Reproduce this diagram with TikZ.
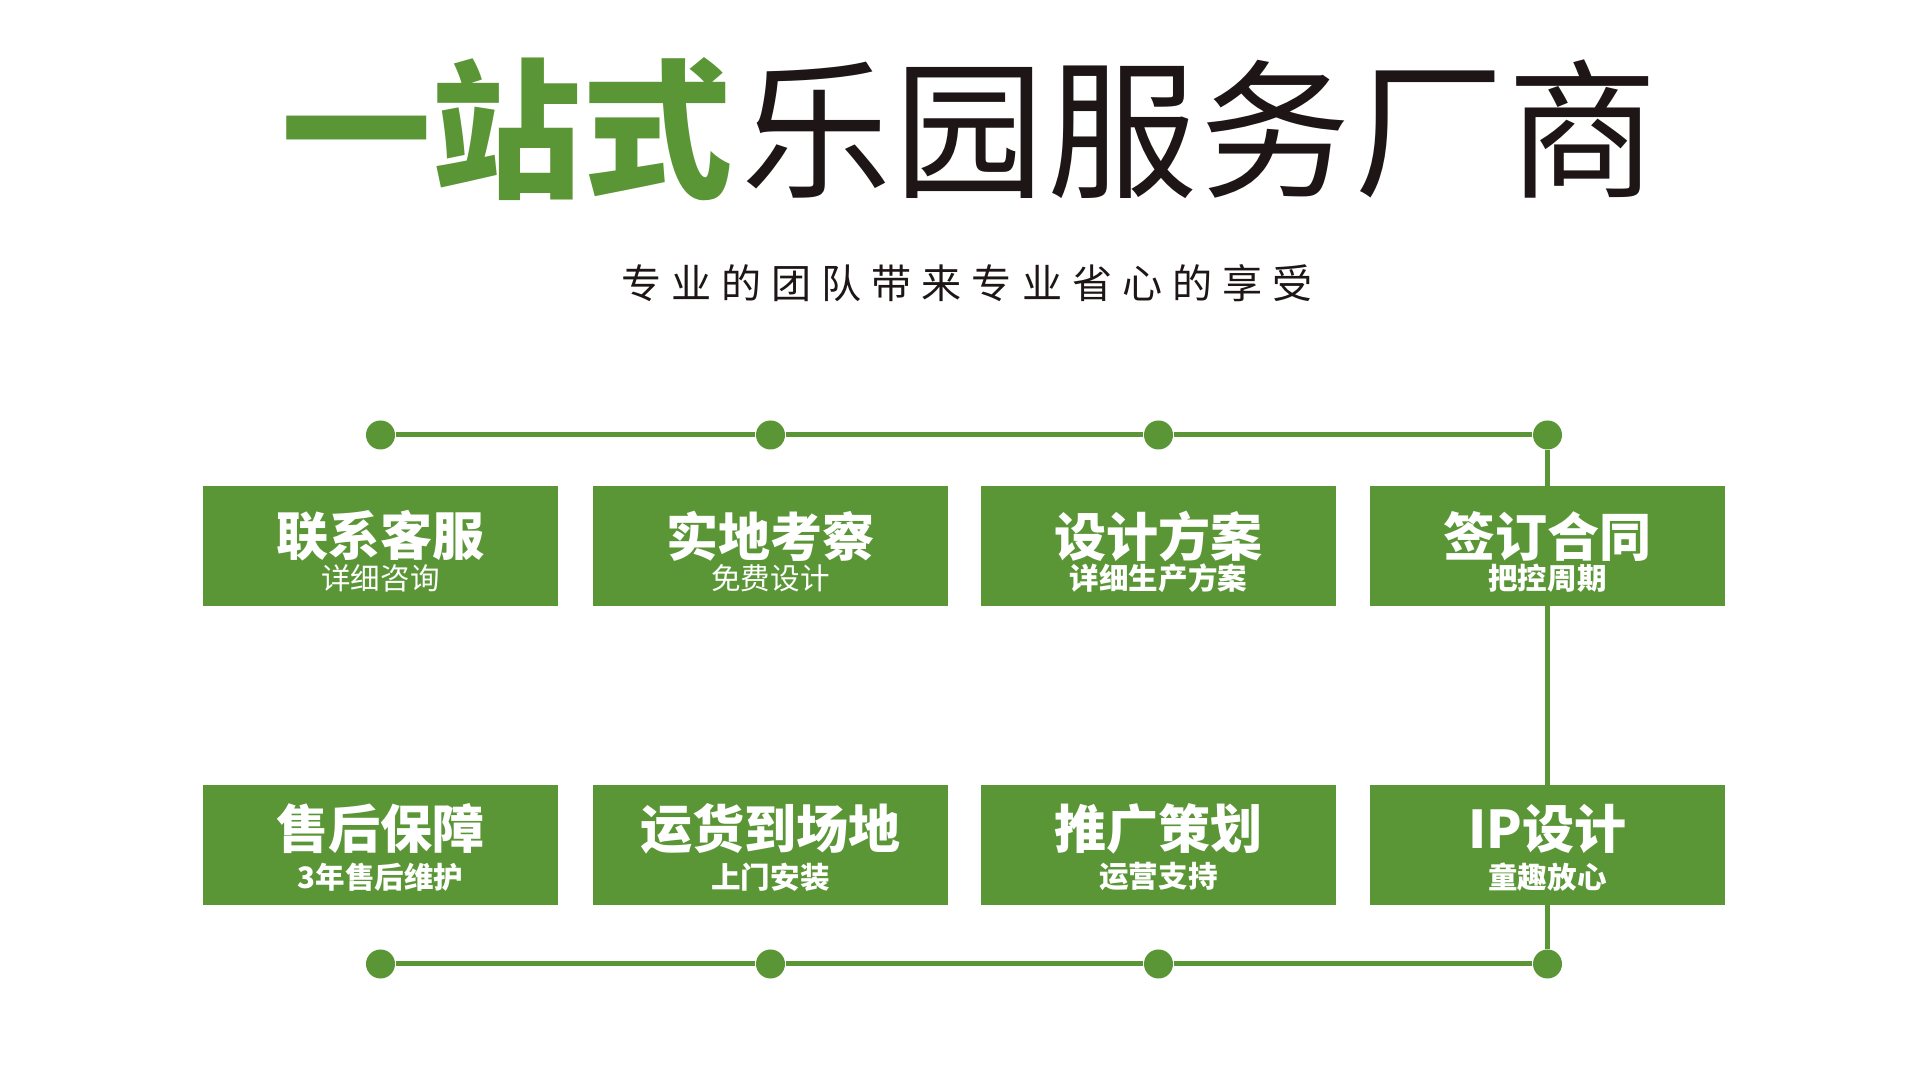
\documentclass[tikz,border=0pt]{standalone}
\usepackage{fontspec}
\setmainfont{Noto Sans CJK SC}
\newfontfamily\spacedfont{Noto Sans CJK SC}[LetterSpace=25]
\newfontfamily\widefont{Noto Sans CJK SC}[LetterSpace=2]
\usetikzlibrary{
	backgrounds,
	positioning
}
\definecolor{ParkGreen}{RGB}{90,150,54}
\definecolor{InkBlack}{RGB}{30,22,22}

\begin{document}
\begin{tikzpicture}[x=0.01cm, y=-0.01cm,
		stage/.style={fill=ParkGreen, minimum width=3.55cm, minimum height=1.2cm, inner sep=0pt},
		headline/.style={text=white, inner sep=0pt, font=\bfseries\fontsize{14.8pt}{16pt}\selectfont},
		subline/.style={text=white, inner sep=0pt, font=\bfseries\fontsize{8.4pt}{10pt}\selectfont},
		dot/.style={circle, fill=ParkGreen, minimum size=0.29cm, inner sep=0pt},
		link/.style={ParkGreen, line width=1.42pt}]
		\useasboundingbox (0,0) rectangle (1920,1080);
		
		% title
		\node[inner sep=0pt, text=ParkGreen, font=\bfseries\fontsize{42.7pt}{44pt}\selectfont] (titleA) at (507,129) {一站式};
		\node[inner sep=0pt, text=InkBlack, font=\widefont\fontsize{42.7pt}{44pt}\selectfont, right=0.08cm of titleA] (titleB) {乐园服务厂商};
		\node[inner sep=0pt, text=InkBlack, font=\spacedfont\fontsize{11.4pt}{13pt}\selectfont] (slogan) at (967,283) {专业的团队带来专业省心的享受};
		
		% dots on the two rails
		\foreach \i/\x in {1/380.5, 2/770.5, 3/1158.5, 4/1547.5} {
			\node[dot] (t\i) at (\x,435) {};
			\node[dot] (b\i) at (\x,964) {};
		}
		
		% steps
		\foreach \i/\x/\y/\dy/\head/\sub in {
			1/380.5/546/10/联系客服/{\mdseries 详细咨询},
			2/770.5/546/10/实地考察/{\mdseries 免费设计},
			3/1158.5/546/10/设计方案/详细生产方案,
			4/1547.5/546/10/签订合同/把控周期,
			5/380.5/845/16/售后保障/3年售后维护,
			6/770.5/845/16/运货到场地/上门安装,
			7/1158.5/845/16/推广策划/运营支持,
			8/1547.5/845/16/IP设计/童趣放心} {
			\node[stage] (s\i) at (\x,\y) {};
			\node[headline] (h\i) at (\x,\y-\dy) {\head};
			\node[subline] (u\i) at (\x,\y+32) {\sub};
		}
		
		\begin{scope}[on background layer]
			\draw[link] (t1) -- (t2) -- (t3) -- (t4) -- (b4) -- (b3) -- (b2) -- (b1);
		\end{scope}
	\end{tikzpicture}
\end{document}
